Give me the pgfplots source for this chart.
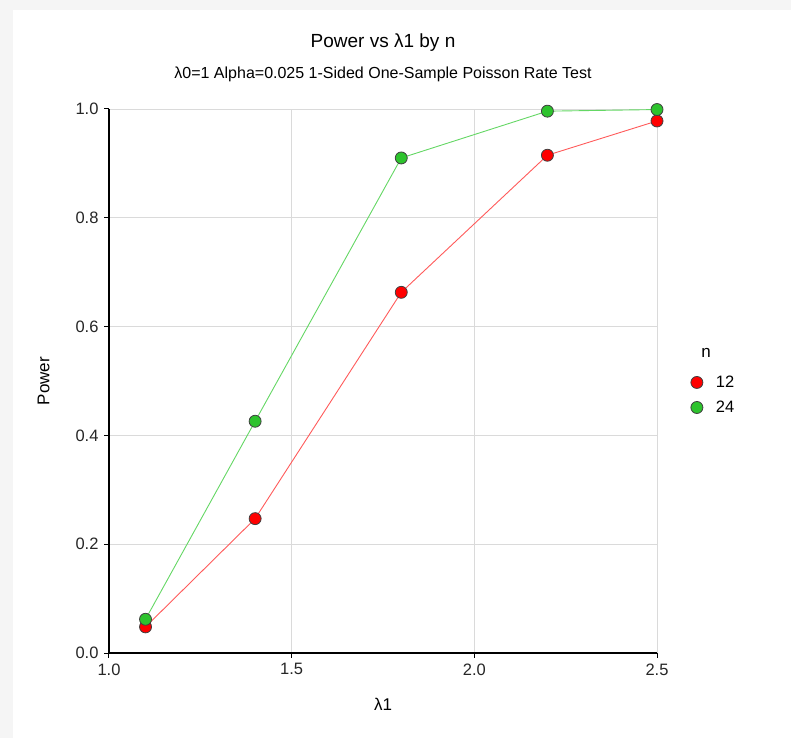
\documentclass[border=0pt]{standalone}
\usepackage{pgfplots}
\pgfplotsset{compat=1.18}
\usepackage{fontspec}
\setmainfont{Liberation Sans}
\definecolor{redm}{RGB}{255,0,0}
\definecolor{greenm}{RGB}{45,195,45}
\definecolor{redl}{RGB}{255,90,90}
\definecolor{greenl}{RGB}{100,215,100}
\definecolor{gridc}{RGB}{218,218,218}
\definecolor{bandc}{RGB}{245,245,245}
\begin{document}
\begin{tikzpicture}
\fill[bandc] (-109pt,-85pt) rectangle (-96pt,653pt);
\fill[bandc] (-109pt,643pt) rectangle (682pt,653pt);
\begin{axis}[
  scale only axis,
  width=548pt, height=544pt,
  xmin=1.0, xmax=2.5, ymin=0, ymax=1.0,
  xtick={1.0,1.5,2.0,2.5}, ytick={0,0.2,0.4,0.6,0.8,1.0},
  xticklabels={1.0,1.5,2.0,2.5},
  yticklabels={0.0,0.2,0.4,0.6,0.8,1.0},
  axis line style={draw=none},
  major tick length=0pt,
  extra description/.code={
    \draw[black, line width=1.2pt] (rel axis cs:0,1) -- (rel axis cs:0,0) -- (rel axis cs:1,0);
    \foreach \t in {0,0.2,0.4,0.6,0.8,1.0} {
      \draw[black, line width=1pt] (rel axis cs:0,\t) -- ++(-5pt,0);
    }
    \foreach \t in {0,0.3333,0.6667,1} {
      \draw[black, line width=1pt] (rel axis cs:\t,0) -- ++(0,-5pt);
    }
  },
  grid=major, major grid style={gridc, line width=0.8pt},
  tick label style={font=\fontsize{16.5}{18}\selectfont, text=black!85},
  /pgf/number format/assume math mode=true,
  xticklabel style={yshift=-7pt},
  yticklabel style={xshift=-7pt},
  xlabel={λ1}, ylabel={Power},
  label style={font=\fontsize{17}{19}\selectfont},
  xlabel style={yshift=-16pt},
  ylabel style={yshift=19pt},
  clip=false,
  legend style={draw=none, fill=none, at={(1.056,0.517)}, anchor=north west,
    font=\fontsize{16.5}{18}\selectfont, row sep=8pt},
  legend cell align=left,
  legend image code/.code={\path[draw=none,fill=none] (-0.2cm,0cm) -- (0.6cm,0cm);\draw[#1, mark repeat=1, only marks] plot coordinates {(0cm,0cm)};},
]
\addplot[color=redl, line width=0.9pt, mark=*, mark size=6pt,
  mark options={fill=redm, draw=black!75, line width=0.8pt}]
  coordinates {(1.1,0.048) (1.4,0.247) (1.8,0.663) (2.2,0.915) (2.5,0.978)};
\addlegendentry{12}
\addplot[color=greenl, line width=0.9pt, mark=*, mark size=6pt,
  mark options={fill=greenm, draw=black!75, line width=0.8pt}]
  coordinates {(1.1,0.062) (1.4,0.426) (1.8,0.910) (2.2,0.996) (2.5,0.999)};
\addlegendentry{24}
\node[font=\fontsize{17}{19}\selectfont] at (rel axis cs:1.0895,0.551) {n};
\node[font=\fontsize{19}{21}\selectfont] at (rel axis cs:0.5,1.122) {Power vs λ1 by n};
\node[font=\fontsize{16}{18}\selectfont] at (rel axis cs:0.5,1.064) {λ0=1 Alpha=0.025 1-Sided One-Sample Poisson Rate Test};
\end{axis}
\path[use as bounding box] (-109pt,-85pt) rectangle (682pt,653pt);
\end{tikzpicture}
\end{document}
